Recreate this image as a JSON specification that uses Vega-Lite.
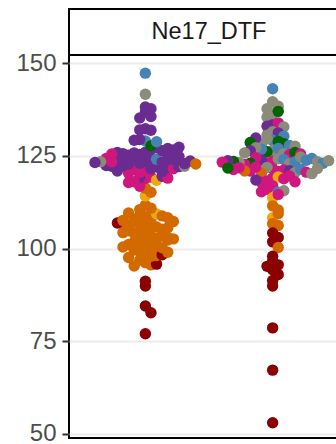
{
  "$schema": "https://vega.github.io/schema/vega-lite/v6.json",
  "padding": {"left": 14, "top": 8, "right": 0, "bottom": 7},
  "spacing": 0,
  "bounds": "flush",
  "config": {"view": {"stroke": "#000000", "strokeWidth": 2, "fill": "#FFFFFF"}, "font": "Liberation Sans"},
  "datasets": {
    "strip": [{"trait": "Ne17_DTF"}],
    "pts": [
      {"col":1,"dtf":77.0,"pop":"G8"},{"col":1,"dtf":84.5,"pop":"G8"},{"col":1,"dtf":82.7,"pop":"G8"},{"col":1,"dtf":89.9,"pop":"G8"},{"col":1,"dtf":91.2,"pop":"G8"},
      {"col":1,"dtf":96.2,"pop":"G6"},{"col":1,"dtf":95.6,"pop":"G6"},{"col":1,"dtf":96.9,"pop":"G6"},{"col":1,"dtf":95.8,"pop":"G8"},{"col":1,"dtf":95.3,"pop":"G6"},
      {"col":1,"dtf":98.6,"pop":"G6"},{"col":1,"dtf":97.9,"pop":"G6"},{"col":1,"dtf":99.2,"pop":"G6"},{"col":1,"dtf":98.1,"pop":"G6"},{"col":1,"dtf":99.6,"pop":"G6"},{"col":1,"dtf":98.3,"pop":"G8"},{"col":1,"dtf":97.6,"pop":"G6"},{"col":1,"dtf":99.0,"pop":"G6"},
      {"col":1,"dtf":101.4,"pop":"G6"},{"col":1,"dtf":100.6,"pop":"G6"},{"col":1,"dtf":102.0,"pop":"G6"},{"col":1,"dtf":100.9,"pop":"G6"},{"col":1,"dtf":101.7,"pop":"G6"},{"col":1,"dtf":100.2,"pop":"G6"},{"col":1,"dtf":101.1,"pop":"G6"},{"col":1,"dtf":102.3,"pop":"G6"},{"col":1,"dtf":100.4,"pop":"G6"},
      {"col":1,"dtf":103.8,"pop":"G6"},{"col":1,"dtf":103.1,"pop":"G6"},{"col":1,"dtf":104.5,"pop":"G6"},{"col":1,"dtf":102.8,"pop":"G6"},{"col":1,"dtf":104.1,"pop":"G6"},{"col":1,"dtf":103.4,"pop":"G6"},{"col":1,"dtf":104.8,"pop":"G6"},{"col":1,"dtf":103.0,"pop":"G6"},{"col":1,"dtf":104.3,"pop":"G6"},{"col":1,"dtf":102.6,"pop":"G6"},
      {"col":1,"dtf":106.0,"pop":"G6"},{"col":1,"dtf":105.4,"pop":"G6"},{"col":1,"dtf":106.6,"pop":"G6"},{"col":1,"dtf":105.8,"pop":"G6"},{"col":1,"dtf":107.1,"pop":"G6"},{"col":1,"dtf":105.2,"pop":"G6"},{"col":1,"dtf":106.3,"pop":"G6"},{"col":1,"dtf":105.6,"pop":"G6"},{"col":1,"dtf":106.8,"pop":"G6"},{"col":1,"dtf":107.3,"pop":"G6"},{"col":1,"dtf":106.9,"pop":"G8"},
      {"col":1,"dtf":108.6,"pop":"G6"},{"col":1,"dtf":108.0,"pop":"G6"},{"col":1,"dtf":109.0,"pop":"G6"},{"col":1,"dtf":109.3,"pop":"G7"},{"col":1,"dtf":107.9,"pop":"G6"},{"col":1,"dtf":108.8,"pop":"G6"},{"col":1,"dtf":109.6,"pop":"G6"},{"col":1,"dtf":108.3,"pop":"G6"},{"col":1,"dtf":107.6,"pop":"G6"},
      {"col":1,"dtf":111.7,"pop":"G6"},{"col":1,"dtf":110.9,"pop":"G6"},{"col":1,"dtf":110.5,"pop":"G6"},
      {"col":1,"dtf":114.2,"pop":"G7"},
      {"col":1,"dtf":116.3,"pop":"G6"},{"col":1,"dtf":115.2,"pop":"G6"},{"col":1,"dtf":116.8,"pop":"G2"},
      {"col":1,"dtf":118.9,"pop":"G2"},{"col":1,"dtf":119.3,"pop":"G2"},{"col":1,"dtf":119.2,"pop":"G1"},{"col":1,"dtf":118.4,"pop":"G7"},{"col":1,"dtf":118.0,"pop":"G2"},{"col":1,"dtf":119.5,"pop":"G1"},{"col":1,"dtf":117.8,"pop":"G2"},{"col":1,"dtf":119.0,"pop":"G2"},
      {"col":1,"dtf":121.0,"pop":"G2"},{"col":1,"dtf":121.6,"pop":"G1"},{"col":1,"dtf":120.5,"pop":"G2"},{"col":1,"dtf":122.0,"pop":"G1"},{"col":1,"dtf":121.3,"pop":"G2"},{"col":1,"dtf":120.8,"pop":"G1"},{"col":1,"dtf":120.3,"pop":"G2"},{"col":1,"dtf":121.8,"pop":"G1"},{"col":1,"dtf":122.3,"pop":"G1"},{"col":1,"dtf":121.5,"pop":"G2"},{"col":1,"dtf":120.9,"pop":"G1"},{"col":1,"dtf":122.1,"pop":"G1"},{"col":1,"dtf":122.2,"pop":"G1"},{"col":1,"dtf":122.2,"pop":"G3"},{"col":1,"dtf":122.4,"pop":"G1"},
      {"col":1,"dtf":123.5,"pop":"G1"},{"col":1,"dtf":124.2,"pop":"G1"},{"col":1,"dtf":123.0,"pop":"G1"},{"col":1,"dtf":124.1,"pop":"G4"},{"col":1,"dtf":124.6,"pop":"G1"},{"col":1,"dtf":123.3,"pop":"G1"},{"col":1,"dtf":122.8,"pop":"G1"},{"col":1,"dtf":124.4,"pop":"G1"},{"col":1,"dtf":123.8,"pop":"G1"},{"col":1,"dtf":124.0,"pop":"G1"},{"col":1,"dtf":123.1,"pop":"G1"},{"col":1,"dtf":124.8,"pop":"G1"},{"col":1,"dtf":123.4,"pop":"G2"},{"col":1,"dtf":122.9,"pop":"G1"},{"col":1,"dtf":124.3,"pop":"G2"},{"col":1,"dtf":123.6,"pop":"G1"},{"col":1,"dtf":123.4,"pop":"G3"},{"col":1,"dtf":122.8,"pop":"G6"},{"col":1,"dtf":123.2,"pop":"G1"},
      {"col":1,"dtf":126.0,"pop":"G1"},{"col":1,"dtf":126.8,"pop":"G1"},{"col":1,"dtf":125.4,"pop":"G1"},{"col":1,"dtf":127.2,"pop":"G1"},{"col":1,"dtf":125.8,"pop":"G1"},{"col":1,"dtf":126.4,"pop":"G1"},{"col":1,"dtf":125.2,"pop":"G1"},{"col":1,"dtf":127.0,"pop":"G1"},{"col":1,"dtf":125.6,"pop":"G1"},{"col":1,"dtf":126.6,"pop":"G1"},{"col":1,"dtf":125.9,"pop":"G1"},{"col":1,"dtf":127.3,"pop":"G1"},{"col":1,"dtf":125.5,"pop":"G2"},
      {"col":1,"dtf":129.0,"pop":"G4"},{"col":1,"dtf":127.7,"pop":"G5"},{"col":1,"dtf":129.4,"pop":"G1"},{"col":1,"dtf":128.8,"pop":"G4"},{"col":1,"dtf":129.2,"pop":"G1"},
      {"col":1,"dtf":132.3,"pop":"G1"},{"col":1,"dtf":131.9,"pop":"G1"},{"col":1,"dtf":132.0,"pop":"G1"},
      {"col":1,"dtf":136.8,"pop":"G1"},{"col":1,"dtf":135.6,"pop":"G1"},{"col":1,"dtf":135.2,"pop":"G1"},
      {"col":1,"dtf":138.2,"pop":"G1"},{"col":1,"dtf":137.7,"pop":"G1"},
      {"col":1,"dtf":141.6,"pop":"G3"},
      {"col":1,"dtf":147.3,"pop":"G4"},

      {"col":2,"dtf":143.1,"pop":"G4"},
      {"col":2,"dtf":139.6,"pop":"G3"},{"col":2,"dtf":138.4,"pop":"G3"},{"col":2,"dtf":137.7,"pop":"G3"},
      {"col":2,"dtf":136.3,"pop":"G3"},{"col":2,"dtf":137.0,"pop":"G5"},{"col":2,"dtf":135.4,"pop":"G3"},
      {"col":2,"dtf":133.4,"pop":"G1"},{"col":2,"dtf":133.9,"pop":"G2"},{"col":2,"dtf":133.0,"pop":"G1"},{"col":2,"dtf":132.8,"pop":"G3"},
      {"col":2,"dtf":131.5,"pop":"G3"},{"col":2,"dtf":131.2,"pop":"G1"},{"col":2,"dtf":130.6,"pop":"G3"},{"col":2,"dtf":130.3,"pop":"G4"},
      {"col":2,"dtf":129.2,"pop":"G4"},{"col":2,"dtf":128.9,"pop":"G5"},{"col":2,"dtf":129.6,"pop":"G3"},{"col":2,"dtf":128.3,"pop":"G5"},{"col":2,"dtf":128.0,"pop":"G3"},{"col":2,"dtf":127.8,"pop":"G4"},{"col":2,"dtf":129.8,"pop":"G1"},{"col":2,"dtf":127.6,"pop":"G3"},{"col":2,"dtf":128.6,"pop":"G5"},
      {"col":2,"dtf":126.5,"pop":"G3"},{"col":2,"dtf":127.0,"pop":"G4"},{"col":2,"dtf":126.1,"pop":"G5"},{"col":2,"dtf":125.6,"pop":"G3"},{"col":2,"dtf":126.8,"pop":"G4"},{"col":2,"dtf":125.3,"pop":"G2"},{"col":2,"dtf":127.2,"pop":"G3"},{"col":2,"dtf":125.9,"pop":"G5"},{"col":2,"dtf":126.4,"pop":"G1"},{"col":2,"dtf":125.5,"pop":"G2"},{"col":2,"dtf":125.8,"pop":"G3"},
      {"col":2,"dtf":123.6,"pop":"G2"},{"col":2,"dtf":124.2,"pop":"G3"},{"col":2,"dtf":123.1,"pop":"G2"},{"col":2,"dtf":124.0,"pop":"G4"},{"col":2,"dtf":123.9,"pop":"G1"},{"col":2,"dtf":122.9,"pop":"G3"},{"col":2,"dtf":124.5,"pop":"G2"},{"col":2,"dtf":123.4,"pop":"G4"},{"col":2,"dtf":123.0,"pop":"G5"},{"col":2,"dtf":124.7,"pop":"G3"},{"col":2,"dtf":122.7,"pop":"G2"},{"col":2,"dtf":123.8,"pop":"G4"},{"col":2,"dtf":123.2,"pop":"G3"},{"col":2,"dtf":124.3,"pop":"G4"},{"col":2,"dtf":123.5,"pop":"G5"},{"col":2,"dtf":123.4,"pop":"G3"},{"col":2,"dtf":123.7,"pop":"G1"},{"col":2,"dtf":123.0,"pop":"G4"},{"col":2,"dtf":123.3,"pop":"G2"},{"col":2,"dtf":123.7,"pop":"G3"},
      {"col":2,"dtf":121.5,"pop":"G2"},{"col":2,"dtf":120.8,"pop":"G2"},{"col":2,"dtf":121.9,"pop":"G3"},{"col":2,"dtf":121.2,"pop":"G2"},{"col":2,"dtf":120.3,"pop":"G6"},{"col":2,"dtf":121.0,"pop":"G1"},{"col":2,"dtf":122.0,"pop":"G2"},{"col":2,"dtf":120.5,"pop":"G3"},{"col":2,"dtf":120.9,"pop":"G2"},{"col":2,"dtf":121.4,"pop":"G4"},{"col":2,"dtf":120.9,"pop":"G6"},{"col":2,"dtf":120.6,"pop":"G2"},{"col":2,"dtf":121.8,"pop":"G2"},{"col":2,"dtf":120.2,"pop":"G3"},{"col":2,"dtf":121.3,"pop":"G2"},{"col":2,"dtf":121.6,"pop":"G3"},{"col":2,"dtf":121.7,"pop":"G5"},
      {"col":2,"dtf":119.0,"pop":"G2"},{"col":2,"dtf":119.3,"pop":"G7"},{"col":2,"dtf":118.2,"pop":"G2"},{"col":2,"dtf":118.8,"pop":"G2"},{"col":2,"dtf":117.9,"pop":"G2"},{"col":2,"dtf":119.6,"pop":"G2"},{"col":2,"dtf":118.5,"pop":"G1"},{"col":2,"dtf":118.0,"pop":"G2"},
      {"col":2,"dtf":116.9,"pop":"G2"},{"col":2,"dtf":115.2,"pop":"G4"},{"col":2,"dtf":116.0,"pop":"G2"},{"col":2,"dtf":115.6,"pop":"G3"},{"col":2,"dtf":115.3,"pop":"G2"},
      {"col":2,"dtf":113.7,"pop":"G7"},{"col":2,"dtf":114.6,"pop":"G2"},
      {"col":2,"dtf":111.5,"pop":"G6"},{"col":2,"dtf":110.4,"pop":"G6"},
      {"col":2,"dtf":108.3,"pop":"G7"},{"col":2,"dtf":109.4,"pop":"G6"},
      {"col":2,"dtf":106.7,"pop":"G6"},{"col":2,"dtf":106.2,"pop":"G6"},
      {"col":2,"dtf":104.2,"pop":"G8"},{"col":2,"dtf":103.0,"pop":"G8"},
      {"col":2,"dtf":101.8,"pop":"G8"},{"col":2,"dtf":100.3,"pop":"G6"},
      {"col":2,"dtf":97.9,"pop":"G8"},
      {"col":2,"dtf":96.6,"pop":"G8"},{"col":2,"dtf":95.6,"pop":"G8"},{"col":2,"dtf":95.2,"pop":"G8"},
      {"col":2,"dtf":94.3,"pop":"G8"},{"col":2,"dtf":93.0,"pop":"G8"},
      {"col":2,"dtf":91.4,"pop":"G8"},
      {"col":2,"dtf":89.9,"pop":"G8"},
      {"col":2,"dtf":78.6,"pop":"G8"},
      {"col":2,"dtf":67.2,"pop":"G8"},
      {"col":2,"dtf":53.0,"pop":"G8"}
    ]
  },
  "vconcat": [
    {
      "data": {"name": "strip"},
      "width": 280,
      "height": 46,
      "mark": {"type": "text", "fontSize": 23.5, "color": "#1A1A1A", "font": "Liberation Sans"},
      "encoding": {
        "x": {"field": "trait", "type": "nominal", "axis": null},
        "y": {"field": "trait", "type": "nominal", "axis": null},
        "text": {"field": "trait"}
      }
    },
    {
      "data": {"name": "pts"},
      "width": 280,
      "height": 383,
      "transform": [
        {"calculate": "floor(datum.dtf / 2.5)", "as": "bin"},
        {"window": [{"op": "row_number", "as": "r"}], "groupby": ["col", "bin"]},
        {"calculate": "datum.col + (datum.r % 2 == 0 ? 1 : -1) * floor(datum.r / 2) * 0.044", "as": "xpos"}
      ],
      "mark": {"type": "circle", "size": 130, "opacity": 1},
      "encoding": {
        "x": {"field": "xpos", "type": "quantitative", "scale": {"domain": [0.4, 2.6], "nice": false, "zero": false}, "axis": null},
        "y": {
          "field": "dtf", "type": "quantitative",
          "scale": {"domain": [48.9, 152.2], "nice": false, "zero": false},
          "axis": {"values": [50, 75, 100, 125, 150], "title": null, "grid": true, "gridColor": "#EBEBEB", "gridWidth": 2, "domain": false, "tickColor": "#333333", "tickWidth": 2, "tickSize": 7, "labelPadding": 6, "labelFontSize": 24, "labelColor": "#4D4D4D", "labelFont": "Liberation Sans"}
        },
        "color": {
          "field": "pop", "type": "nominal",
          "scale": {"domain": ["G1","G2","G3","G4","G5","G6","G7","G8"], "range": ["#6A2C91","#D0167F","#8B8B7A","#4682B4","#006400","#D26A00","#EFA70C","#8B0000"]},
          "legend": null
        }
      }
    }
  ]
}
